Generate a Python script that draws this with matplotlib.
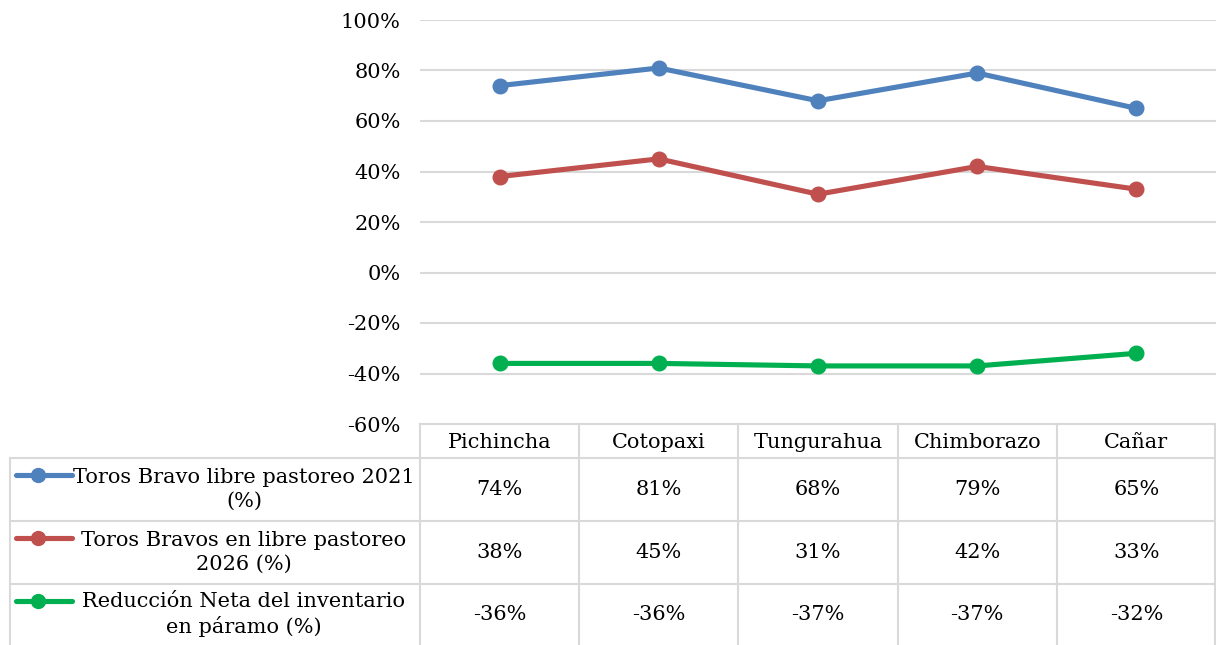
import matplotlib
matplotlib.use("Agg")
import matplotlib.pyplot as plt
from matplotlib.lines import Line2D

plt.rcParams["font.family"] = ["DejaVu Serif"]

provinces = ["Pichincha", "Cotopaxi", "Tungurahua", "Chimborazo", "Cañar"]
series_names = [
    "Toros Bravo libre pastoreo 2021\n(%)",
    "Toros Bravos en libre pastoreo\n2026 (%)",
    "Reducción Neta del inventario\nen páramo (%)",
]
toros_2021 = [74, 81, 68, 79, 65]
toros_2026 = [38, 45, 31, 42, 33]
reduccion = [-36, -36, -37, -37, -32]
colors = ["#4f81bd", "#c0504d", "#00b050"]
y_ticks = [-60, -40, -20, 0, 20, 40, 60, 80, 100]

W, H = 1216, 645
fig = plt.figure(figsize=(W / 100, H / 100), dpi=100)

# pixel layout
plot_left, plot_right = 420, 1216
plot_top, plot_bottom = 20, 424
row_lines = [424, 458, 521, 584, 645]
label_left = 10
grid_color = "#d9d9d9"
fs = 15

ax = fig.add_axes([plot_left / W, 1 - plot_bottom / H,
                   (plot_right - plot_left) / W, (plot_bottom - plot_top) / H])
ax.set_xlim(-0.5, len(provinces) - 0.5)
ax.set_ylim(-60, 100)
ax.set_yticks(y_ticks)
ax.set_yticklabels([f"{v}%" for v in y_ticks], fontsize=fs)
ax.set_xticks([])
ax.tick_params(axis="y", length=0, pad=14)
for s in ax.spines.values():
    s.set_visible(False)
ax.grid(axis="y", color=grid_color, linewidth=1.5)
ax.set_axisbelow(True)

all_series = [toros_2021, toros_2026, reduccion]
for vals, c in zip(all_series, colors):
    ax.plot(range(len(provinces)), vals, color=c, linewidth=3.7,
            marker="o", markersize=10.5, solid_capstyle="round")

# data table overlay in pixel coords
tab = fig.add_axes([0, 0, 1, 1])
tab.set_xlim(0, W)
tab.set_ylim(H, 0)
tab.axis("off")

col_w = (plot_right - plot_left) / len(provinces)
col_edges = [plot_left + i * col_w for i in range(len(provinces) + 1)]

# horizontal lines
tab.plot([plot_left, plot_right], [row_lines[0]] * 2, color=grid_color, lw=1.5)
for y in row_lines[1:4]:
    tab.plot([label_left, plot_right], [y, y], color=grid_color, lw=1.5)
# vertical lines
for x in col_edges[:-1]:
    tab.plot([x, x], [row_lines[0], H], color=grid_color, lw=1.5)
tab.plot([plot_right - 1, plot_right - 1], [row_lines[0], H], color=grid_color, lw=1.5)
tab.plot([label_left, label_left], [row_lines[1], H], color=grid_color, lw=1.5)

# header
for i, p in enumerate(provinces):
    tab.text(col_edges[i] + col_w / 2, (row_lines[0] + row_lines[1]) / 2 + 2, p,
             ha="center", va="center", fontsize=fs)

# rows
for r, (name, vals, c) in enumerate(zip(series_names, all_series, colors)):
    yc = (row_lines[r + 1] + row_lines[r + 2]) / 2
    tab.text(244, yc, name, ha="center", va="center", fontsize=fs,
             multialignment="center", linespacing=1.3)
    y_leg = row_lines[r + 1] + 17
    tab.add_line(Line2D([16, 72], [y_leg, y_leg], color=c, lw=3.7,
                        solid_capstyle="round"))
    tab.plot([38], [y_leg], "o", color=c, markersize=10)
    for i, v in enumerate(vals):
        tab.text(col_edges[i] + col_w / 2, yc, f"{v}%", ha="center", va="center",
                 fontsize=fs)

fig.savefig("out.png", dpi=100)
